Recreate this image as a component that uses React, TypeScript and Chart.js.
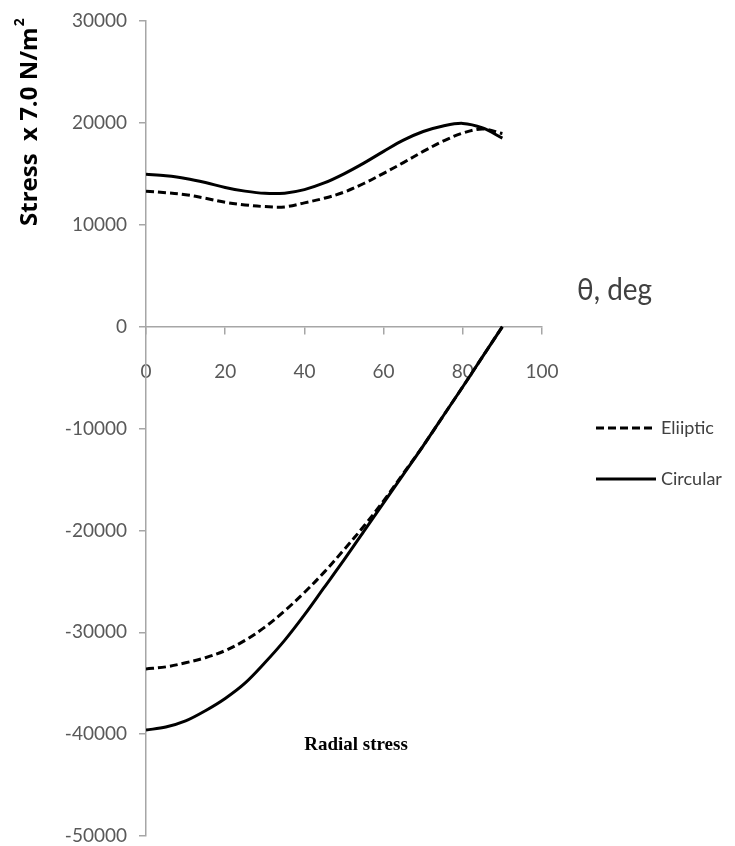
import React, { useEffect, useRef } from "react";
import { Chart, registerables } from "chart.js";

Chart.register(...registerables);

// ---- data ----
const theta = [0, 5, 10, 15, 20, 25, 30, 35, 40, 45, 50, 55, 60, 65, 70, 75, 80, 85, 90];

const ellipticRadial = [-33600, -33400, -33000, -32500, -31800, -30800, -29500, -27900, -26100, -24100, -21900, -19600, -17100, -14400, -11700, -8800, -5900, -2950, 0];
const circularRadial = [-39600, -39300, -38700, -37700, -36500, -35000, -33000, -30800, -28300, -25600, -22900, -20100, -17300, -14500, -11700, -8800, -5900, -2950, 0];

const ellipticHoop = [13300, 13150, 12950, 12600, 12200, 11950, 11780, 11750, 12150, 12600, 13200, 14050, 15050, 16100, 17200, 18200, 19000, 19400, 18950];
const circularHoop = [14950, 14800, 14550, 14150, 13650, 13300, 13080, 13100, 13450, 14100, 15000, 16050, 17200, 18300, 19150, 19700, 19950, 19500, 18500];

const seriesNames = ["Eliiptic", "Circular"];
const xMin = 0;
const xMax = 100;
const xStep = 20;
const yMin = -50000;
const yMax = 30000;
const yStep = 10000;

const yTitle = "Stress  x 7.0 N/m";
const yTitleSup = "2";
const xTitle = "θ, deg";
const panelNote = "Radial stress";

const DASH = [8, 4];

function pts(ys: number[]) {
  return theta.map((t, i) => ({ x: t, y: ys[i] }));
}

function condensedText(ctx: any, text: string, x: number, y: number, font: string, targetW: number) {
  ctx.save();
  ctx.font = font;
  const w = ctx.measureText(text).width;
  ctx.translate(x, y);
  ctx.scale(targetW / w, 1);
  ctx.fillText(text, 0, 0);
  ctx.restore();
}

const textPlugin = {
  id: "texts",
  afterDraw(chart: any) {
    const ctx = chart.ctx;
    ctx.save();
    // y title (rotated)
    ctx.translate(30, 226);
    ctx.rotate(-Math.PI / 2);
    ctx.fillStyle = "#000";
    ctx.font = "bold 24px 'Open Sans'";
    ctx.textBaseline = "middle";
    ctx.textAlign = "left";
    ctx.fillText(yTitle, 0, 0);
    const w = ctx.measureText(yTitle).width;
    ctx.font = "bold 14px 'Open Sans'";
    ctx.fillText(yTitleSup, w + 1, -10);
    ctx.restore();

    ctx.save();
    // x title
    ctx.fillStyle = "#404040";
    ctx.textBaseline = "middle";
    ctx.textAlign = "left";
    condensedText(ctx, xTitle, 577, 290, "31px Lato", 75);

    // note
    ctx.fillStyle = "#000";
    ctx.font = "bold 19px 'Liberation Serif'";
    ctx.textAlign = "center";
    ctx.fillText(panelNote, 356, 745);

    // legend
    const legendY = [428, 479];
    seriesNames.forEach((name, i) => {
      const ds = chart.data.datasets[i];
      ctx.strokeStyle = ds.borderColor;
      ctx.lineWidth = ds.borderWidth;
      ctx.setLineDash(ds.borderDash || []);
      ctx.beginPath();
      ctx.moveTo(596, legendY[i]);
      ctx.lineTo(656, legendY[i]);
      ctx.stroke();
      ctx.setLineDash([]);
      ctx.fillStyle = "#404040";
      ctx.font = "18px Lato";
      ctx.textAlign = "left";
      ctx.fillText(name, 661, legendY[i]);
    });
    ctx.restore();
  },
};

export default function App() {
  const ref = useRef<HTMLCanvasElement | null>(null);

  useEffect(() => {
    if (!ref.current) return;
    const line = { borderColor: "#000", borderWidth: 3, pointRadius: 0, tension: 0.35, fill: false };
    const chart = new Chart(ref.current, {
      type: "line",
      data: {
        datasets: [
          { label: seriesNames[0], data: pts(ellipticRadial), borderDash: DASH, ...line },
          { label: seriesNames[1], data: pts(circularRadial), ...line },
          { label: "", data: pts(ellipticHoop), borderDash: DASH, ...line },
          { label: "", data: pts(circularHoop), ...line },
        ],
      },
      options: {
        animation: false,
        responsive: false,
        layout: { padding: { left: 0, top: 21, right: 193, bottom: 10 } },
        plugins: { legend: { display: false }, tooltip: { enabled: false } },
        scales: {
          x: {
            type: "linear",
            position: { y: 0 },
            min: xMin,
            max: xMax,
            afterFit: (s: any) => { s.height = 0; },
            ticks: { stepSize: xStep, color: "#595959", font: { family: "Lato", size: 19 }, padding: 27, maxRotation: 0 },
            grid: { drawOnChartArea: false, tickLength: 7, color: "#a6a6a6", lineWidth: 1.5 },
            border: { display: true, color: "#a6a6a6", width: 1.5 },
          },
          y: {
            type: "linear",
            position: "left",
            min: yMin,
            max: yMax,
            afterFit: (s: any) => { s.width = 146; s.paddingTop = 0; s.paddingBottom = 0; },
            ticks: { stepSize: yStep, color: "#595959", font: { family: "Lato", size: 19 }, padding: 12, callback: (v: any) => String(v) },
            grid: { drawOnChartArea: false, tickLength: 7, color: "#a6a6a6", lineWidth: 1.5 },
            border: { display: true, color: "#a6a6a6", width: 1.5 },
          },
        },
      },
      plugins: [textPlugin],
    });
    return () => chart.destroy();
  }, []);

  return (
    <div style={{ position: "absolute", left: 0, top: 0, width: 735, height: 846, background: "#fff" }}>
      <canvas ref={ref} width={735} height={846} />
    </div>
  );
}
